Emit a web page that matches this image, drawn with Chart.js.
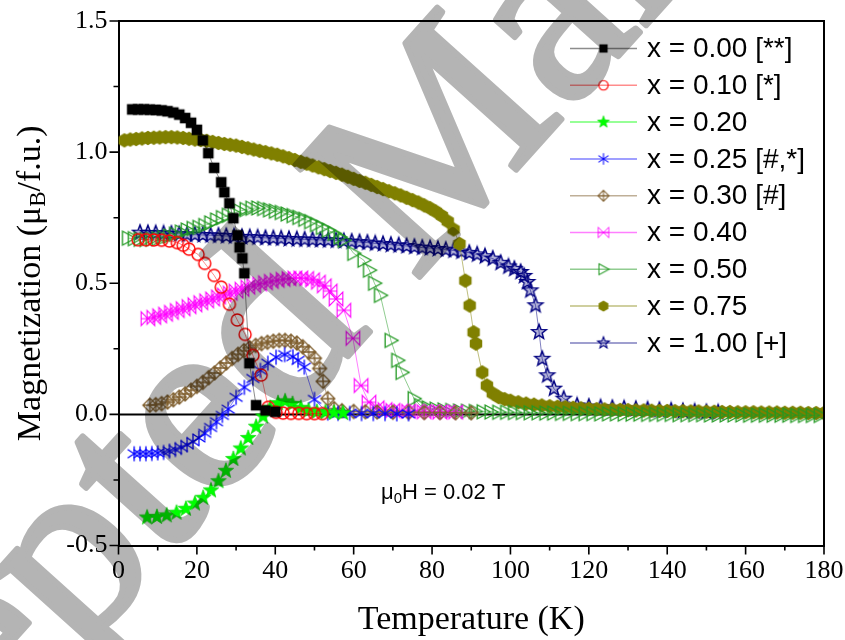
<!DOCTYPE html>
<html><head><meta charset="utf-8">
<script src="https://cdn.jsdelivr.net/npm/chart.js@4.4.1/dist/chart.umd.min.js"></script>
<style>html,body{margin:0;padding:0;background:#fff;}canvas{display:block;}</style>
</head><body>
<canvas id="c" width="845" height="640"></canvas>
<script>
// ---- data (temperature in K, magnetization in muB/f.u.) ----
const seriesLabels = ['x = 0.00 [**]','x = 0.10 [*]','x = 0.20','x = 0.25 [#,*]','x = 0.30 [#]','x = 0.40','x = 0.50','x = 0.75','x = 1.00 [+]'];

const t000 = [3.5,5,6.5,8,9.5,11,12.5,14,15.5,17,18.5,20,21.5,22.9,24.4,26.2,27,28.3,29.3,30.4,30.9,31.6,32.1,33.4,35.1,37.5,40];
const m000 = [1.163,1.163,1.163,1.162,1.161,1.159,1.156,1.151,1.143,1.13,1.112,1.085,1.045,0.996,0.94,0.885,0.847,0.805,0.748,0.683,0.637,0.595,0.538,0.195,0.035,0.015,0.01];

const t010 = [5,7,9,11,13,15,16.5,18,20.3,22,24.4,26.2,28.3,30.3,32.3,34.3,36.4,38.2,40.2,42,44,46,48,50,52];
const m010 = [0.666,0.666,0.665,0.664,0.661,0.655,0.645,0.63,0.61,0.576,0.53,0.485,0.42,0.36,0.305,0.225,0.15,0.027,0.008,0.005,0.004,0.004,0.003,0.003,0.003];

const t020 = [7.3,9.8,12.3,14.8,17.2,19.5,21.6,23.6,25.5,27.4,29.3,31.2,33.1,35.1,36.9,38.7,40.7,42.5,44.4,46.5,48.5,50.6,52.8,55,57.3];
const m020 = [-0.393,-0.391,-0.385,-0.375,-0.36,-0.34,-0.318,-0.29,-0.255,-0.215,-0.17,-0.13,-0.09,-0.047,-0.008,0.025,0.043,0.05,0.04,0.025,0.015,0.01,0.008,0.006,0.005];

const t025 = [4,5.5,7,8.5,10,11.5,13,14.5,16,17.5,19,20.5,22,23.5,25,26.5,28,30,32.1,34.3,36.2,38.1,40.2,42.4,44.5,45.8,47.4,50,53.4,56,59,62,65,68,71,74];
const m025 = [-0.15,-0.15,-0.15,-0.149,-0.147,-0.145,-0.14,-0.134,-0.126,-0.116,-0.104,-0.09,-0.072,-0.05,-0.028,-0.004,0.02,0.065,0.103,0.137,0.168,0.195,0.218,0.228,0.22,0.206,0.18,0.057,0.005,0.004,0.004,0.003,0.003,0.003,0.002,0.002];

const t030 = [8,9.5,11,12.5,14,15.5,17,18.5,20,21.5,23,24.5,26,27.5,29,30.5,32,33.5,35,36.5,38,39.5,41,42.5,44,45.5,47,48.5,50,51.3,52.2,53.4,55,57,60,63,66,70,74,78,82,86,90];
const m030 = [0.035,0.037,0.041,0.047,0.056,0.066,0.078,0.092,0.107,0.122,0.14,0.158,0.177,0.196,0.213,0.229,0.243,0.254,0.263,0.27,0.275,0.279,0.282,0.282,0.279,0.272,0.258,0.238,0.214,0.175,0.126,0.06,0.022,0.014,0.011,0.01,0.009,0.008,0.008,0.007,0.007,0.006,0.006];

const t040 = [7.5,9,10.5,12,13.5,15,16.5,18,19.5,21,22.5,24,25.5,27,28.5,30,31.5,33,34.5,36,37.5,39,40.5,42,43.5,45,46.5,48,49.5,51,52.5,54,55.5,57.5,59.8,61.9,63.9,66,68,70,72,74,76,78,80,82,84,86];
const m040 = [0.365,0.37,0.376,0.382,0.389,0.396,0.403,0.411,0.418,0.426,0.433,0.44,0.448,0.455,0.462,0.47,0.477,0.485,0.491,0.497,0.502,0.507,0.511,0.515,0.518,0.52,0.52,0.518,0.513,0.504,0.49,0.47,0.44,0.397,0.29,0.11,0.046,0.025,0.018,0.015,0.013,0.012,0.011,0.01,0.01,0.009,0.009,0.009];

const t050 = [2.5,4,5.5,7,8.5,10,11.5,13,14.5,16,17.5,19,20.5,22,23.5,25,26.5,28,29.5,31,32.5,34,35.5,37,38.5,40,41.5,43,44.5,46,47.5,49,50.5,52,53.5,55,56.5,57.5,60,62.6,64,65.3,66.8,69.5,71.2,72.3,75.4,77,79,81,83,85,87,89,91,93,95,97,99,101,103,105,107,109,111,113,115,117,119,121,123,125,127,129,131,133,135,137,139,141,143,145,147,149,151,153,155,157,159,161,163,165,167,169,171,173,175,177,179];
const m050 = [0.672,0.67,0.668,0.667,0.668,0.67,0.674,0.68,0.687,0.695,0.703,0.709,0.713,0.72,0.73,0.741,0.75,0.759,0.767,0.775,0.781,0.786,0.787,0.785,0.78,0.775,0.77,0.764,0.758,0.751,0.744,0.735,0.724,0.713,0.702,0.69,0.676,0.664,0.614,0.588,0.55,0.50,0.454,0.282,0.206,0.16,0.06,0.034,0.025,0.02,0.017,0.015,0.013,0.012,0.011,0.01,0.009,0.008,0.008,0.007,0.007,0.006,0.006,0.005,0.005,0.004,0.004,0.003,0.003,0.003,0.002,0.002,0.002,0.001,0.001,0.001,0,0,0,0,-0.001,-0.001,-0.001,-0.001,-0.002,-0.002,-0.002,-0.002,-0.002,-0.003,-0.003,-0.003,-0.003,-0.003,-0.003,-0.004,-0.004,-0.004,-0.004];

const t075 = [1.5,3,4.5,6,7.5,9,10.5,12,13.5,15,16.5,18,19.5,21,22.5,24,25.5,27,28.5,30,31.5,33,34.5,36,37.5,39,40.5,42,43.5,45,46.5,48,49.5,51,52.5,54,55.5,57,58.5,60,61.5,63,64.5,66,67.5,69,70.5,72,73.5,75,76.5,78,79.5,81,82.5,84,85.5,87,88.5,89.6,90.6,91.2,92.8,94,95.5,97,98.5,100,102,104,106,108,110,112,114,116,118,120,122,124,126,128,130,132,134,136,138,140,142,144,146,148,150,152,154,156,158,160,162,164,166,168,170,172,174,176,178,180];
const m075 = [1.045,1.048,1.05,1.052,1.054,1.055,1.056,1.057,1.057,1.056,1.054,1.051,1.048,1.046,1.043,1.039,1.035,1.031,1.028,1.025,1.02,1.015,1.01,1.005,1.0,0.995,0.99,0.984,0.977,0.97,0.963,0.956,0.949,0.942,0.935,0.928,0.921,0.914,0.906,0.898,0.89,0.883,0.875,0.867,0.859,0.851,0.843,0.835,0.826,0.817,0.808,0.797,0.786,0.773,0.757,0.736,0.705,0.65,0.51,0.415,0.313,0.27,0.16,0.11,0.08,0.066,0.058,0.052,0.046,0.041,0.037,0.034,0.031,0.029,0.027,0.025,0.023,0.021,0.02,0.019,0.018,0.017,0.016,0.015,0.015,0.014,0.013,0.013,0.012,0.012,0.011,0.011,0.01,0.01,0.009,0.009,0.008,0.008,0.008,0.007,0.007,0.007,0.006,0.006,0.006,0.005,0.005,0.005];

const t100 = [5.5,7.5,9.5,11.5,13.5,15.5,17.5,19.5,21.5,23.5,25.5,27.5,29.5,31.5,33.5,35.5,37.5,39.5,41.5,43.5,45.5,47.5,49.5,51.5,53.5,55.5,57.5,59.5,61.5,63.5,65.5,67.5,69.5,71.5,73.5,75.5,77.5,79.5,81.5,83.5,85.5,87.5,89.5,91.5,93.5,95.5,97.5,99.5,101,102.6,103.5,104.3,105.1,106.4,107.3,108.1,109.4,111.1,113.6,117,120,123,126,129,132,135,138,141,144,147,150,153];
const m100 = [0.693,0.692,0.691,0.69,0.689,0.688,0.686,0.685,0.684,0.683,0.682,0.68,0.679,0.677,0.676,0.675,0.673,0.672,0.671,0.669,0.668,0.667,0.666,0.665,0.664,0.663,0.661,0.659,0.657,0.655,0.652,0.65,0.647,0.645,0.642,0.639,0.636,0.634,0.631,0.628,0.625,0.621,0.616,0.61,0.603,0.594,0.578,0.564,0.555,0.543,0.528,0.505,0.473,0.416,0.314,0.212,0.149,0.098,0.06,0.034,0.03,0.027,0.025,0.023,0.021,0.019,0.017,0.015,0.013,0.011,0.009,0.008];

const xMajorTicks = [0,20,40,60,80,100,120,140,160,180];
const xMinorTicks = [10,30,50,70,90,110,130,150,170];
const yMajorTicks = [-0.5,0,0.5,1.0,1.5];
const yMinorTicks = [-0.25,0.25,0.75,1.25];

// ---- marker shapes ----
function starPath(g,R,r){g.beginPath();for(let i=0;i<10;i++){const a=-Math.PI/2+i*Math.PI/5;const q=i%2?r:R;const px=q*Math.cos(a),py=q*Math.sin(a);i?g.lineTo(px,py):g.moveTo(px,py);}g.closePath();}
const shapes = [
  g=>{g.fillStyle='#000';g.fillRect(-5.3,-5.3,10.6,10.6);},
  g=>{g.strokeStyle='#ff0000';g.lineWidth=1.4;g.beginPath();g.arc(0,0,6,0,2*Math.PI);g.stroke();},
  g=>{starPath(g,8.2,3.4);g.fillStyle='#00ff00';g.fill();g.strokeStyle='#00d000';g.lineWidth=0.6;g.stroke();},
  g=>{g.strokeStyle='#0000ff';g.lineWidth=1.3;g.beginPath();g.moveTo(0,-7.5);g.lineTo(0,7.5);g.moveTo(-6.5,-4.3);g.lineTo(6.5,4.3);g.moveTo(6.5,-4.3);g.lineTo(-6.5,4.3);g.stroke();},
  g=>{g.strokeStyle='#806030';g.lineWidth=1.3;g.beginPath();g.moveTo(0,-7);g.lineTo(7,0);g.lineTo(0,7);g.lineTo(-7,0);g.closePath();g.moveTo(-7,0);g.lineTo(7,0);g.moveTo(0,-7);g.lineTo(0,7);g.stroke();},
  g=>{g.strokeStyle='#ff00ff';g.lineWidth=1.1;g.beginPath();g.moveTo(-6.8,-6.8);g.lineTo(6.8,6.8);g.lineTo(6.8,-6.8);g.lineTo(-6.8,6.8);g.closePath();g.moveTo(-6.8,0);g.lineTo(6.8,0);g.stroke();},
  g=>{g.strokeStyle='#229922';g.lineWidth=1.3;g.beginPath();g.moveTo(-5.8,-7);g.lineTo(7.2,0);g.lineTo(-5.8,7);g.closePath();g.stroke();},
  g=>{g.fillStyle='#808000';g.beginPath();for(let i=0;i<6;i++){const a=Math.PI/2+i*Math.PI/3;const px=7.2*Math.cos(a),py=7.2*Math.sin(a);i?g.lineTo(px,py):g.moveTo(px,py);}g.closePath();g.fill();},
  g=>{starPath(g,7.8,3.3);g.fillStyle='rgba(0,0,128,0.3)';g.fill();g.strokeStyle='#000080';g.lineWidth=1.4;g.stroke();}
];
const lineColors = ['rgba(0,0,0,0.45)','rgba(255,0,0,0.45)','rgba(0,255,0,0.55)','rgba(0,0,255,0.5)','rgba(128,96,48,0.5)','rgba(255,0,255,0.5)','rgba(34,153,34,0.5)','rgba(128,128,0,0.5)','rgba(0,0,128,0.5)'];
function makeMarker(draw,scale){const s=20;const c=document.createElement('canvas');c.width=s;c.height=s;const g=c.getContext('2d');g.translate(s/2,s/2);g.scale(scale,scale);draw(g);return c;}
const markers = shapes.map(d=>makeMarker(d,1));
const legendMarkers = shapes.map(d=>makeMarker(d,0.78));

const seriesT = [t000,t010,t020,t025,t030,t040,t050,t075,t100];
const seriesM = [m000,m010,m020,m025,m030,m040,m050,m075,m100];

const datasets = seriesLabels.map((lab,i)=>({
  label: lab,
  data: seriesT[i].map((t,j)=>({x:t,y:seriesM[i][j]})),
  showLine: true,
  borderColor: lineColors[i],
  borderWidth: 1,
  pointStyle: markers[i],
  pointRadius: 5,
  pointHoverRadius: 5,
  fill: false,
  tension: 0
}));

const serif = '"Liberation Serif","Times New Roman",serif';
const sans = '"Liberation Sans",Arial,sans-serif';

// watermark text (drawn once on its own layer, then multiplied over the chart)
const watermarkText = 'Accepted Manuscript';
function watermarkLayer(w,h){
  const c=document.createElement('canvas');c.width=w;c.height=h;const g=c.getContext('2d');
  g.translate(-272,1045);g.rotate(-48*Math.PI/180);
  g.font='255px '+serif;g.fillStyle='rgb(180,180,180)';g.strokeStyle='rgb(180,180,180)';g.lineWidth=6;g.lineJoin='round';
  g.fillText(watermarkText,0,0);g.strokeText(watermarkText,0,0);
  return c;
}

const deco = {
  id: 'deco',
  beforeDraw(chart){const c=chart.ctx;c.save();c.fillStyle='#fff';c.fillRect(0,0,chart.width,chart.height);c.restore();},
  beforeDatasetsDraw(chart){
    const c=chart.ctx, a=chart.chartArea, y0=chart.scales.y.getPixelForValue(0);
    c.save();c.strokeStyle='#000';c.lineWidth=2;c.beginPath();c.moveTo(a.left,y0);c.lineTo(a.right,y0);c.stroke();c.restore();
  },
  afterDraw(chart){
    const c=chart.ctx, a=chart.chartArea, xs=chart.scales.x, ys=chart.scales.y;
    c.save();
    c.strokeStyle='#000';c.lineWidth=2;
    c.beginPath();c.moveTo(a.left,a.top);c.lineTo(a.right,a.top);c.lineTo(a.right,a.bottom);c.stroke();
    c.lineWidth=1.6;c.beginPath();
    xMajorTicks.forEach(v=>{const p=xs.getPixelForValue(v);c.moveTo(p,a.bottom);c.lineTo(p,a.bottom+9);});
    xMinorTicks.forEach(v=>{const p=xs.getPixelForValue(v);c.moveTo(p,a.bottom);c.lineTo(p,a.bottom+5);});
    yMajorTicks.forEach(v=>{const p=ys.getPixelForValue(v);c.moveTo(a.left,p);c.lineTo(a.left-9,p);});
    yMinorTicks.forEach(v=>{const p=ys.getPixelForValue(v);c.moveTo(a.left,p);c.lineTo(a.left-5,p);});
    c.stroke();
    // y title with subscript
    c.save();c.translate(31,(a.top+a.bottom)/2);c.rotate(-Math.PI/2);
    c.fillStyle='#000';c.textBaseline='middle';
    const p1='Magnetization (\u03bc', p2='B', p3='/f.u.)';
    c.font='34px '+serif;const w1=c.measureText(p1).width, w3=c.measureText(p3).width;
    c.font='23px '+serif;const w2=c.measureText(p2).width;
    let x=-(w1+w2+w3)/2;
    c.font='34px '+serif;c.textAlign='left';c.fillText(p1,x,0);x+=w1;
    c.font='23px '+serif;c.fillText(p2,x,8);x+=w2;
    c.font='34px '+serif;c.fillText(p3,x,0);
    c.restore();
    // field annotation
    c.fillStyle='#000';c.textBaseline='middle';c.textAlign='left';
    let fx=381;
    c.font='22px '+sans;c.fillText('\u03bc',fx,493);fx+=c.measureText('\u03bc').width;
    c.font='15px '+sans;c.fillText('0',fx,499);fx+=c.measureText('0').width;
    c.font='22px '+sans;c.fillText('H = 0.02 T',fx,493);
    // legend
    for(let i=0;i<seriesLabels.length;i++){
      const ly=48.5+i*36.8;
      c.strokeStyle=lineColors[i];c.lineWidth=1.5;c.beginPath();c.moveTo(570,ly);c.lineTo(637,ly);c.stroke();
      c.drawImage(legendMarkers[i],603.5-10,ly-10);
      c.fillStyle='#000';c.font='28px '+sans;c.textBaseline='middle';c.fillText(seriesLabels[i],647,ly+1);
    }
    // watermark
    c.globalCompositeOperation='multiply';
    c.drawImage(watermarkLayer(chart.width,chart.height),0,0);
    c.restore();
  }
};

new Chart(document.getElementById('c'), {
  type: 'scatter',
  data: { datasets },
  options: {
    responsive: false,
    animation: false,
    devicePixelRatio: 1,
    layout: { padding: { top: 21, right: 21, left: 0, bottom: 0 } },
    plugins: { legend: { display: false }, tooltip: { enabled: false } },
    scales: {
      x: {
        type: 'linear', min: 0, max: 180,
        afterFit(s){ s.height = 94.5; s.paddingLeft = 0; s.paddingRight = 0; },
        grid: { display: false, drawTicks: false },
        border: { display: true, color: '#000', width: 2 },
        ticks: { stepSize: 20, color: '#000', font: { family: serif, size: 26 }, padding: 10, maxRotation: 0 },
        title: { display: true, text: 'Temperature (K)', color: '#000', font: { family: serif, size: 34 }, padding: { top: 0, bottom: 0 } }
      },
      y: {
        type: 'linear', min: -0.5, max: 1.5,
        afterFit(s){ s.width = 118.5; s.paddingTop = 0; s.paddingBottom = 0; },
        grid: { display: false, drawTicks: false },
        border: { display: true, color: '#000', width: 2 },
        ticks: { stepSize: 0.5, color: '#000', font: { family: serif, size: 26 }, padding: 11, callback: v => Number(v).toFixed(1) }
      }
    }
  },
  plugins: [deco]
});
</script>
</body></html>
